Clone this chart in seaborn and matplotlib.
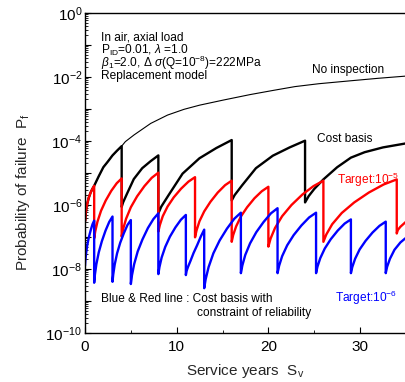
import numpy as np
import pandas as pd
import matplotlib
matplotlib.use("Agg")
import matplotlib.pyplot as plt
import matplotlib.ticker as mticker
import seaborn as sns

# ---------------- data (log10 of probability of failure) ----------------
noinsp_years = [0.02, 0.08, 0.2, 0.4, 0.6, 0.8, 1.0, 1.5, 2.0, 2.5, 3.0, 3.5, 4.0,
                4.4, 5.35, 7.17, 9.0, 10.8, 12.5, 15.1, 18.0, 20.5, 22.9, 25.5,
                28.9, 32.0, 35.5]
noinsp_log = [-6.50, -6.25, -6.02, -5.78, -5.62, -5.50, -5.40, -5.10, -4.82, -4.64,
              -4.45, -4.30, -4.16, -4.02, -3.81, -3.45, -3.19, -3.01, -2.88, -2.72,
              -2.55, -2.42, -2.30, -2.21, -2.12, -2.04, -1.96]

cost_years = [0.02, 0.08, 0.2, 0.4, 0.6, 0.8, 1.0, 1.5, 2.0, 2.5, 3.0, 3.5, 4.0,
              4.0, 4.16, 4.56, 5.32, 6.24, 7.16, 8.0,
              8.0, 8.32, 9.12, 10.64, 12.48, 14.32, 16.0,
              16.0, 16.32, 17.12, 18.64, 20.48, 22.32, 24.0,
              24.0, 24.4, 25.0, 26.0, 27.5, 29.0, 30.5, 32.5, 34.9, 35.5]
cost_log = [-6.50, -6.25, -6.02, -5.78, -5.62, -5.50, -5.40, -5.10, -4.82, -4.64,
            -4.45, -4.30, -4.16,
            -6.06, -5.915, -5.66, -5.19, -4.85, -4.63, -4.45,
            -6.26, -6.05, -5.69, -5.02, -4.54, -4.22, -3.97,
            -5.86, -5.69, -5.39, -4.85, -4.46, -4.20, -3.99,
            -5.92, -5.72, -5.50, -5.20, -4.82, -4.52, -4.35, -4.20, -4.08, -4.06]

red_years = [0.02, 0.08, 0.2, 0.4, 0.6, 0.8, 1.0,
             1.0, 1.12, 1.36, 1.75, 2.26, 2.86, 3.46, 4.0,
             4.0, 4.16, 4.48, 5.0, 5.68, 6.48, 7.28, 8.0,
             8.0, 8.16, 8.48, 9.0, 9.68, 10.48, 11.28, 12.0,
             12.0, 12.16, 12.48, 13.0, 13.68, 14.48, 15.28, 16.0,
             16.0, 16.16, 16.48, 17.0, 17.68, 18.48, 19.28, 20.0,
             20.0, 20.24, 20.72, 21.5, 22.52, 23.72, 24.92, 26.0,
             26.0, 26.32, 26.96, 28.0, 29.36, 30.96, 32.56, 34.0,
             34.0, 34.12, 34.4, 34.9, 35.5]
red_log = [-6.50, -6.25, -6.02, -5.78, -5.62, -5.50, -5.40,
           -7.04, -6.82, -6.52, -6.18, -5.86, -5.56, -5.32, -5.17,
           -6.99, -6.75, -6.43, -6.07, -5.73, -5.41, -5.15, -4.99,
           -6.83, -6.63, -6.35, -6.05, -5.76, -5.49, -5.27, -5.13,
           -7.01, -6.80, -6.51, -6.20, -5.90, -5.61, -5.38, -5.24,
           -7.15, -6.94, -6.67, -6.36, -6.07, -5.79, -5.57, -5.43,
           -7.30, -7.05, -6.72, -6.35, -6.00, -5.67, -5.41, -5.24,
           -7.15, -6.92, -6.60, -6.25, -5.92, -5.61, -5.36, -5.20,
           -6.89, -6.78, -6.68, -6.55, -6.40]

blue_years = [0.0, 0.04, 0.12, 0.25, 0.42, 0.62, 0.82, 1.0,
              1.0, 1.08, 1.24, 1.5, 1.84, 2.24, 2.64, 3.0,
              3.0, 3.08, 3.24, 3.5, 3.84, 4.24, 4.64, 5.0,
              5.0, 5.12, 5.36, 5.75, 6.26, 6.86, 7.46, 8.0,
              8.0, 8.12, 8.36, 8.75, 9.26, 9.86, 10.46, 11.0,
              11.0, 11.08, 11.24, 11.5, 11.84, 12.24, 12.64, 13.0,
              13.0, 13.16, 13.48, 14.0, 14.68, 15.48, 16.28, 17.0,
              17.0, 17.16, 17.48, 18.0, 18.68, 19.48, 20.28, 21.0,
              21.0, 21.17, 21.5, 22.05, 22.76, 23.6, 24.44, 25.2,
              25.2, 25.35, 25.66, 26.15, 26.8, 27.56, 28.32, 29.0,
              29.0, 29.15, 29.46, 29.95, 30.6, 31.36, 32.12, 32.8,
              32.8, 32.95, 33.26, 33.75, 34.4, 34.9, 35.5]
blue_log = [-7.90, -7.73, -7.51, -7.25, -7.01, -6.79, -6.60, -6.49,
            -8.43, -8.18, -7.85, -7.48, -7.13, -6.80, -6.53, -6.36,
            -8.40, -8.17, -7.86, -7.51, -7.18, -6.88, -6.62, -6.47,
            -8.47, -8.20, -7.85, -7.45, -7.08, -6.72, -6.44, -6.26,
            -8.16, -7.94, -7.64, -7.31, -6.99, -6.70, -6.46, -6.31,
            -8.19, -8.06, -7.93, -7.75, -7.50, -7.25, -6.98, -6.77,
            -8.60, -8.32, -7.94, -7.51, -7.11, -6.74, -6.43, -6.24,
            -8.13, -7.89, -7.56, -7.20, -6.85, -6.53, -6.26, -6.10,
            -8.13, -7.90, -7.60, -7.26, -6.94, -6.64, -6.39, -6.24,
            -8.13, -7.93, -7.66, -7.36, -7.07, -6.80, -6.58, -6.45,
            -8.13, -7.94, -7.68, -7.39, -7.12, -6.86, -6.65, -6.52,
            -8.13, -7.93, -7.68, -7.40, -7.17, -7.05, -6.93]

ytick_exps = [0, -1, -2, -3, -4, -5, -6, -7, -8, -9, -10]
xtick_vals = [0, 10, 20, 30]
xminor_vals = [5, 15, 25, 35]

# ---------------- style ----------------
sns.set_style("white")
plt.rcParams["font.family"] = ["Liberation Sans", "DejaVu Sans"]
plt.rcParams["mathtext.fontset"] = "custom"
plt.rcParams["mathtext.rm"] = "Liberation Sans"
plt.rcParams["mathtext.it"] = "Liberation Sans:italic"
plt.rcParams["mathtext.bf"] = "Liberation Sans:bold"

fig = plt.figure(figsize=(4.05, 3.82), dpi=100)
ax = fig.add_axes([85 / 405, 49 / 382, 320 / 405, 320 / 382])


def frame(years, logs):
    return pd.DataFrame({"year": years, "p": np.power(10.0, np.array(logs))})


sns.lineplot(data=frame(noinsp_years, noinsp_log), x="year", y="p", sort=False,
             estimator=None, color="black", linewidth=0.8, ax=ax)
sns.lineplot(data=frame(cost_years, cost_log), x="year", y="p", sort=False,
             estimator=None, color="black", linewidth=1.7, ax=ax)
sns.lineplot(data=frame(red_years, red_log), x="year", y="p", sort=False,
             estimator=None, color="#ff0000", linewidth=1.7, ax=ax)
sns.lineplot(data=frame(blue_years, blue_log), x="year", y="p", sort=False,
             estimator=None, color="#0000ff", linewidth=1.7, ax=ax)

ax.set_yscale("log")
ax.set_ylim(1e-10, 1)
ax.set_xlim(0, 34.9)

ax.yaxis.set_major_locator(mticker.FixedLocator([10.0 ** e for e in ytick_exps]))
ax.yaxis.set_major_formatter(mticker.FuncFormatter(
    lambda v, p: (r"$10^{%d}$" % round(np.log10(v))) if round(np.log10(v)) % 2 == 0 else ""))
ax.yaxis.set_minor_locator(mticker.LogLocator(base=10, subs=np.arange(2, 10), numticks=20))
ax.yaxis.set_minor_formatter(mticker.NullFormatter())
ax.xaxis.set_major_locator(mticker.FixedLocator(xtick_vals))
ax.xaxis.set_minor_locator(mticker.FixedLocator(xminor_vals))

ax.tick_params(axis="both", which="major", direction="in", length=4, width=0.8,
               labelsize=11, color="black", labelcolor="black")
ax.tick_params(axis="both", which="minor", direction="in", length=2, width=0.6,
               color="black")
ax.tick_params(axis="y", which="major", pad=2)
ax.tick_params(axis="x", which="major", pad=5)
ax.tick_params(left=True, bottom=True, which="both")

for side in ["left", "bottom", "top"]:
    ax.spines[side].set_color("black")
    ax.spines[side].set_linewidth(1.0)
ax.spines["right"].set_visible(False)

ax.set_xlabel(r"Service years  S$_{\mathrm{v}}$", fontsize=11)
ax.set_ylabel(r"Probability of failure  P$_{\mathrm{f}}$", fontsize=11)
ax.xaxis.set_label_coords(0.5, -0.09)
ax.yaxis.set_label_coords(-0.165, 0.44)


def px(X, Y):
    return ((X - 85) / 320, (333 - Y) / 320)


fs = 8.6
t = dict(transform=ax.transAxes, fontsize=fs, va="baseline", ha="left", color="black")
ax.text(*px(101, 40.7), "In air, axial load", **t)
ax.text(*px(101, 53.7), r"P$_{\mathrm{ID}}$=0.01, $\lambda$ =1.0", **t)
ax.text(*px(101, 66.5), r"$\beta_{\mathrm{1}}$=2.0, $\Delta$ $\sigma$(Q=10$^{-8}$)=222MPa", **t)
ax.text(*px(101, 79), "Replacement model", **t)
ax.text(*px(312, 72.5), "No inspection", **t)
ax.text(*px(317, 142.5), "Cost basis", **t)
ax.text(*px(337, 184), r"Target:10$^{-5}$", **dict(t, color="#ff0000"))
ax.text(*px(335, 302), r"Target:10$^{-6}$", **dict(t, color="#0000ff"))
ax.text(*px(101, 302), "Blue & Red line : Cost basis with", **t)
ax.text(*px(197, 316), "constraint of reliability", **t)

fig.savefig("out.png", dpi=100)
